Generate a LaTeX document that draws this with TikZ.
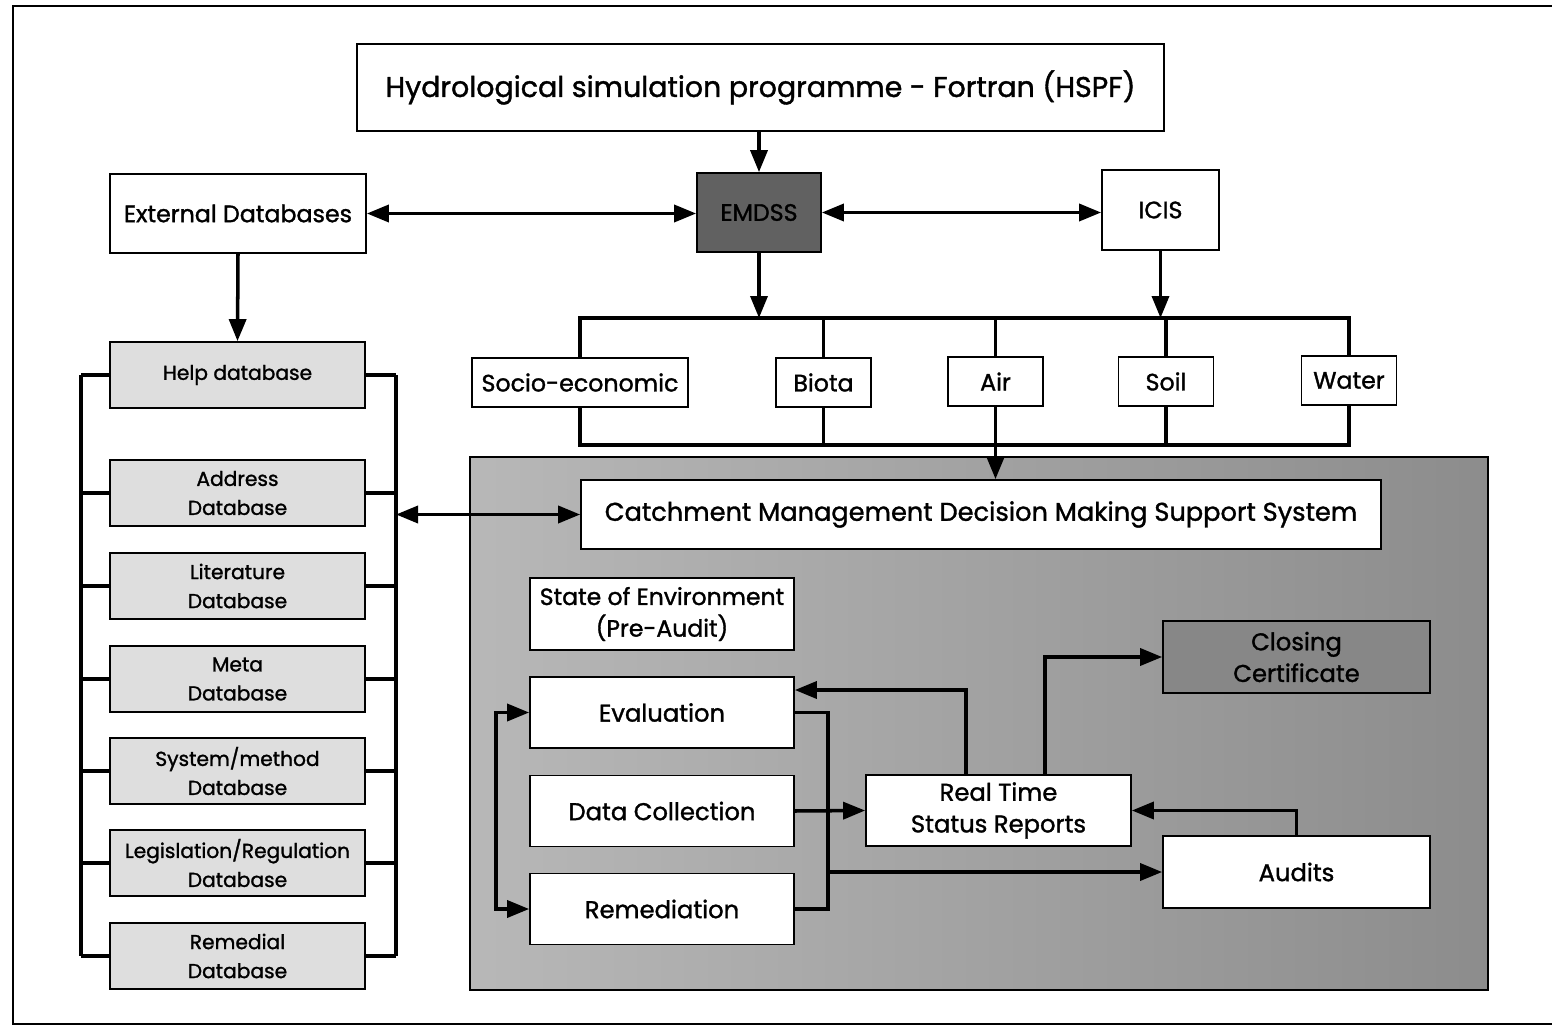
\documentclass[tikz,border=0pt]{standalone}
\usepackage{fontspec}
\setmainfont{Poppins}[FakeBold=1.3]
\usetikzlibrary{arrows.meta,positioning,calc}
\tikzset{>={Triangle[length=4.4mm,width=3.4mm]}}
\tikzset{
  box/.style={draw,line width=1pt,fill=white,inner sep=2pt,align=center,
    font=\fontsize{13.5}{17}\selectfont},
  dbbox/.style={box,fill=black!13,minimum width=5.1cm,minimum height=1.32cm,
    font=\fontsize{11.5}{16.5}\selectfont},
  smallbox/.style={box,minimum width=1.9cm,minimum height=0.98cm},
  cmbox/.style={box,minimum width=5.28cm,minimum height=1.42cm,
    font=\fontsize{13.8}{18}\selectfont},
  link/.style={line width=2pt}
}

\begin{document}
\begin{tikzpicture}[x=0.02cm,y=-0.02cm]
  \useasboundingbox (0,0) rectangle (1552,1027);
  % outer frame
  \draw[line width=1.6pt] (1600,6) -- (13,6) -- (13,1024) -- (1600,1024);

  % shaded area of the decision support system
  \shade[left color=black!28,middle color=black!44,right color=black!45,draw=black,line width=1.2pt]
    (470,457) rectangle (1488,990);

  % top row
  \node[box,minimum width=16.14cm,minimum height=1.74cm,
        font=\fontsize{16.2}{19}\selectfont] (hspf) at (760.5,87.5)
        {Hydrological simulation programme - Fortran (HSPF)};
  \node[box,minimum width=5.12cm,minimum height=1.58cm] (extdb) at (238,213.5) {External Databases};
  \node[box,fill=black!62,minimum width=2.48cm,minimum height=1.58cm] (emdss) at (759,212.5) {EMDSS};
  \node[box,minimum width=2.34cm,minimum height=1.6cm] (icis) at (1160.5,210) {ICIS};

  % environment components
  \node[smallbox,minimum width=4.32cm] (socio) at (580,382.5) {Socio-economic};
  \node[smallbox] (biota) at (823.5,382.5) {Biota};
  \node[smallbox] (air)   at (995.5,381.5) {Air};
  \node[smallbox] (soil)  at (1166,381.5) {Soil};
  \node[smallbox] (water) at (1349,380.5) {Water};

  % databases
  \node[dbbox] (help) at (237.5,375) {Help database};
  \node[dbbox] (address) at (237.5,493) {Address\\Database};
  \node[dbbox] (literature) at (237.5,586) {Literature\\Database};
  \node[dbbox] (meta) at (237.5,679) {Meta\\Database};
  \node[dbbox] (sysmeth) at (237.5,771) {System/method\\Database};
  \node[dbbox] (legis) at (237.5,863) {Legislation/Regulation\\Database};
  \node[dbbox] (remedial) at (237.5,956) {Remedial\\Database};

  % decision making support system
  \node[box,minimum width=16cm,minimum height=1.38cm,
        font=\fontsize{14.6}{17}\selectfont] (cmdss) at (981,514.5)
        {Catchment Management Decision Making Support System};
  \node[cmbox,minimum height=1.44cm,font=\fontsize{13.4}{18}\selectfont] (soe) at (662,614) {State of Environment\\(Pre-Audit)};
  \node[cmbox] (eval)  at (662,712.5) {Evaluation};
  \node[cmbox] (datac) at (662,811) {Data Collection};
  \node[cmbox] (remed) at (662,909) {Remediation};
  \node[cmbox,minimum width=5.3cm] (rtsr) at (998.5,810.5) {Real Time\\Status Reports};
  \node[cmbox,minimum width=5.34cm,minimum height=1.44cm,fill=black!47] (closing) at (1296.5,657) {Closing\\Certificate};
  \node[cmbox,minimum width=5.34cm,minimum height=1.44cm] (audits) at (1296.5,872) {Audits};

  % bus lines
  \coordinate (tb) at (0,318);
  \coordinate (bb) at (0,445);
  \coordinate (lb) at (81,0);
  \coordinate (rb) at (396,0);
  \coordinate (ll) at (496,0);
  \coordinate (rr) at (828,0);

  \draw[link] (socio.north) -- (socio.north |- tb) -- (water.north |- tb) -- (water.north);
  \draw[link] (socio.south) -- (socio.south |- bb) -- (water.south |- bb) -- (water.south);
  \foreach \n in {biota,air,soil}{
    \draw[link] (\n.north) -- (\n.north |- tb);
    \draw[link] (\n.south) -- (\n.south |- bb);
  }
  \draw[link] (help.west -| lb) -- (remedial.west -| lb);
  \draw[link] (help.east -| rb) -- (remedial.east -| rb);
  \foreach \n in {help,address,literature,meta,sysmeth,legis,remedial}{
    \draw[link] (\n.west) -- (\n.west -| lb);
    \draw[link] (\n.east) -- (\n.east -| rb);
  }

  % arrows
  \draw[link,->] (emdss.north |- hspf.south) -- (emdss.north);
  \draw[link,<->] (extdb.east) -- (extdb.east -| emdss.west);
  \draw[link,<->] (emdss.east) -- (emdss.east -| icis.west);
  \draw[link,->] (emdss.south) -- (emdss.south |- tb);
  \draw[link,->] (icis.south) -- (icis.south |- tb);
  \draw[link,->] (extdb.south) -- (help.north);
  \draw[link,->] (air.south |- bb) -- (air.south |- cmdss.north);
  \draw[link,<->] (cmdss.west -| rb) -- (cmdss.west);

  \draw[link,<->] (eval.west) -- (eval.west -| ll) -- (remed.west -| ll) -- (remed.west);
  \draw[link] (eval.east) -- (eval.east -| rr) -- (remed.east -| rr) -- (remed.east);
  \draw[link,->] (datac.east) -- (rtsr.west);
  \draw[link,->] (audits.west -| rr) -- (audits.west);
  \draw[link,->] ([xshift=-0.65cm]rtsr.north) |- ([yshift=0.45cm]eval.east);
  \draw[link,->] ([xshift=0.93cm]rtsr.north) |- (closing.west);
  \draw[link,->] (audits.north) |- (rtsr.east);
\end{tikzpicture}
\end{document}
